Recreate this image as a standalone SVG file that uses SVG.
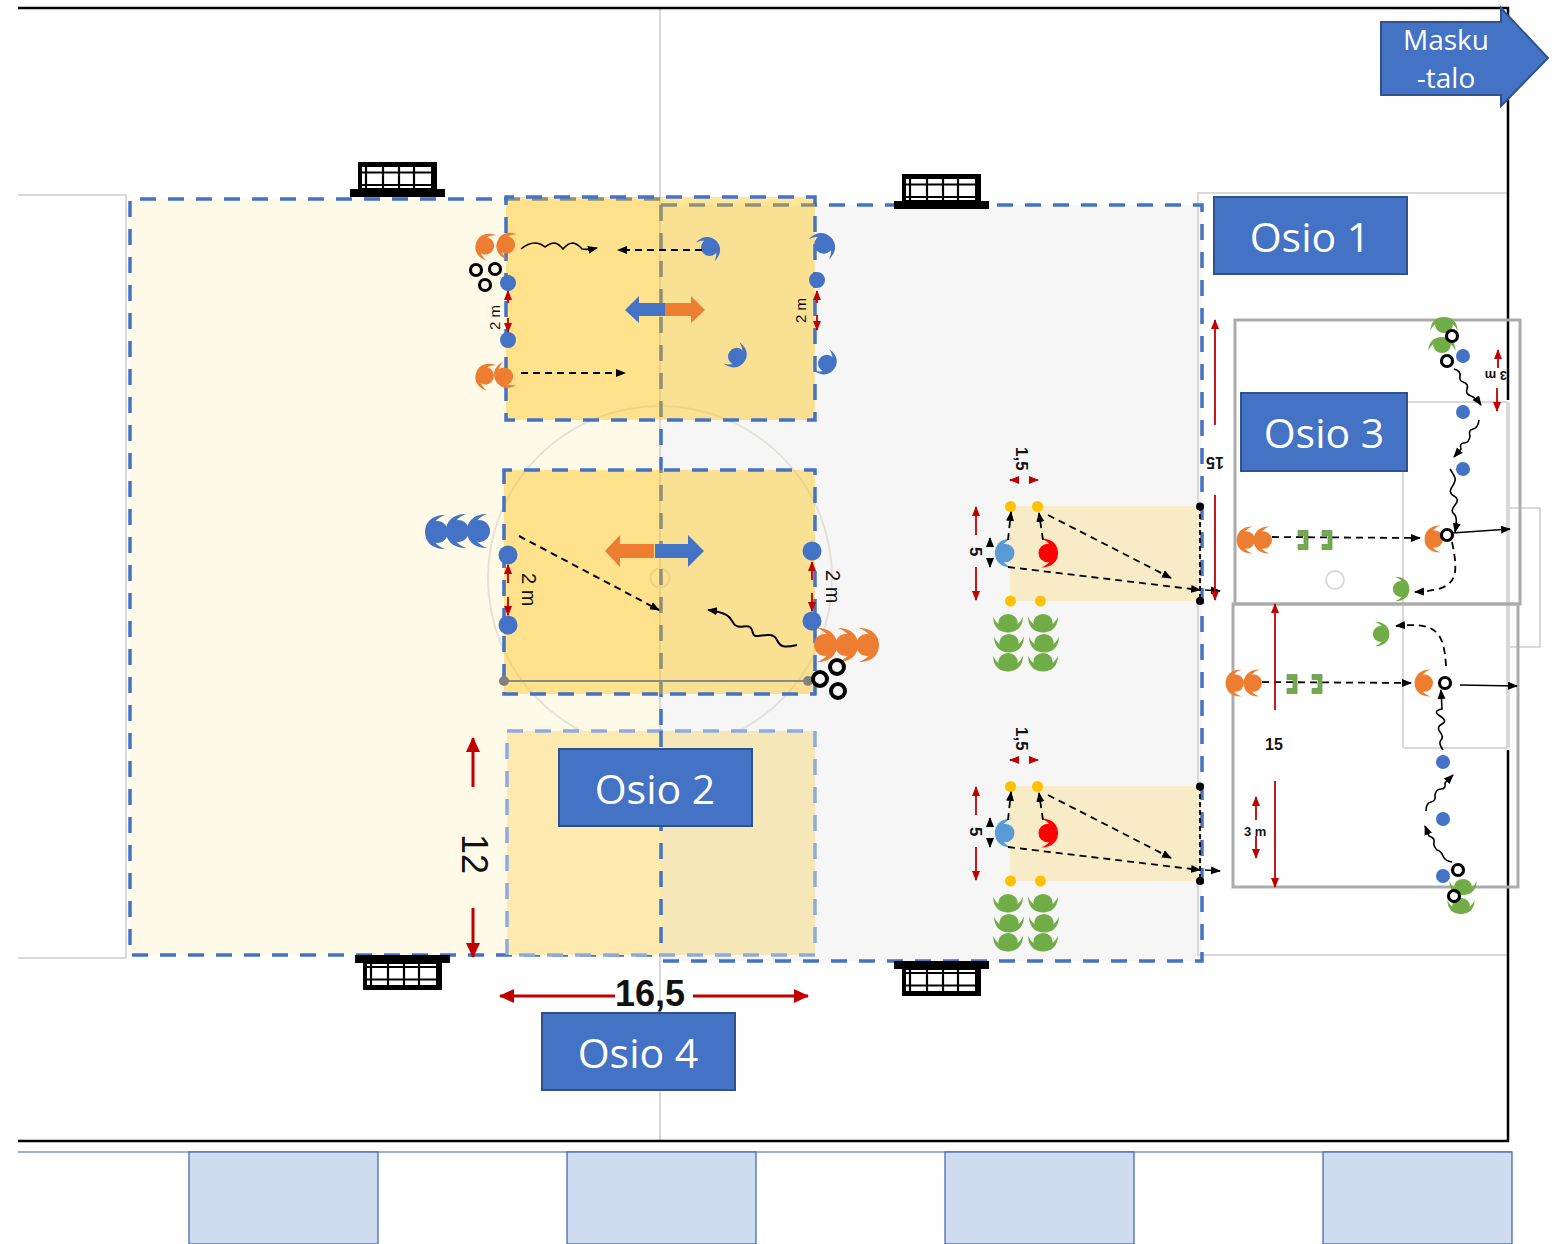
<svg xmlns="http://www.w3.org/2000/svg" xmlns:xlink="http://www.w3.org/1999/xlink" width="1557" height="1244" viewBox="0 0 1557 1244">
<style>
text{font-family:"Liberation Sans",Arial,sans-serif;fill:#111}
.osio{fill:#4472C4;stroke:#2F528F;stroke-width:2}
.ot{font-family:"Open Sans","Noto Sans",sans-serif;font-size:41px;fill:#fff;text-anchor:middle}
.court{fill:none;stroke:#d9d9d9;stroke-width:2}
.dash{fill:none;stroke:#4472C4;stroke-width:3.5;stroke-dasharray:16 12}
.dash2{fill:none;stroke:#8FAADC;stroke-width:3.5;stroke-dasharray:16 12}
.panel{fill:none;stroke:#ababab;stroke-width:3}
.k{fill:none;stroke:#000;stroke-width:1.6;marker-end:url(#ak)}
.kd{fill:none;stroke:#000;stroke-width:1.8;stroke-dasharray:7 5;marker-end:url(#ak)}
.r{fill:none;stroke:#C00000;stroke-width:1.8;marker-end:url(#ar)}
.rb{fill:none;stroke:#C00000;stroke-width:3;marker-end:url(#arb)}
.ring{fill:#fff;fill-opacity:0;stroke:#000;stroke-width:3.2}
.o{fill:#ED7D31}.b{fill:#4472C4}.g{fill:#70AD47}.lb{fill:#5B9BD5}.red{fill:#FF0000}
.cone{fill:#FFC000}.bd{fill:#4472C4}
.t{font-size:17px;font-weight:bold}
</style>
<defs>
<marker id="ak" markerUnits="userSpaceOnUse" markerWidth="11" markerHeight="10" refX="9" refY="5" orient="auto"><path d="M0 1L10 5L0 9Z" fill="#000"/></marker>
<marker id="ar" markerUnits="userSpaceOnUse" markerWidth="11" markerHeight="10" refX="9" refY="5" orient="auto"><path d="M0 1L10 5L0 9Z" fill="#C00000"/></marker>
<marker id="arb" markerUnits="userSpaceOnUse" markerWidth="16" markerHeight="14" refX="14" refY="7" orient="auto"><path d="M0 0L15 7L0 14Z" fill="#C00000"/></marker>
<g id="p"><circle cx="1" r="11"/><path d="M-7 -17C7 -17 13 -9 13 0C13 9 7 17 -7 17C1 14 6 9 6 0C6 -9 1 -14 -7 -17Z"/></g>
<g id="goal"><rect x="8" y="0" width="79" height="28" fill="#000"/><rect x="12" y="5" width="69" height="21" fill="#fff"/><path d="M12 10.500h69M12 23h69M16 5v21M33 5v21M49 5v21M64 5v21" stroke="#000" stroke-width="2.200" fill="none"/><rect x="0" y="27" width="95" height="8" fill="#000"/></g>
<path id="bk" d="M-5 -9.500h10v19h-10v-5h6v-9h-6z" fill="#70AD47" stroke="#6f8f5a" stroke-width=".8"/>
</defs>
<rect width="1557" height="1244" fill="#fff"/>
<g id="pitch">
<rect x="130" y="199" width="530" height="756" fill="#FFF9E8"/>
<rect x="660" y="205" width="542" height="756" fill="#F6F6F6"/>
<path class="court" d="M18 195H126V958H18M1508 193H1198V955H1508"/>
<path d="M660 8V1141" stroke="#d9d9d9" stroke-width="2"/>
<circle cx="660" cy="578" r="172" fill="none" stroke="#e3e1da" stroke-width="2"/>
<circle cx="660" cy="578" r="9.500" fill="none" stroke="#e3e1da" stroke-width="2"/>
<path class="dash" d="M660 199H130V955H660"/>
<path class="dash" d="M661 205H1202V961H661"/>
<path class="dash" d="M661 205V961"/>
<path d="M18 8H1508V400M1508 750V1141H18" fill="none" stroke="#000" stroke-width="2.500"/>
</g>
<g id="zones">
<rect x="506" y="197" width="309" height="223" fill="#FFC000" fill-opacity=".4"/>
<rect x="506" y="197" width="309" height="223" class="dash" stroke-dashoffset="8"/>
<rect x="504" y="470" width="311" height="224" fill="#FFC000" fill-opacity=".4"/>
<rect x="504" y="470" width="311" height="224" class="dash" stroke-dashoffset="8"/>
<rect x="507" y="731" width="154" height="224" fill="#FEE9AE"/>
<rect x="661" y="731" width="154" height="224" fill="#F5E7B7"/>
<rect x="507" y="731" width="308" height="224" class="dash2"/>
<path class="dash" d="M661 731V955"/>
</g>
<g id="goals">
<use href="#goal" transform="translate(350 162)"/>
<use href="#goal" transform="translate(894 174)"/>
<use href="#goal" transform="translate(355 990) scale(1 -1)"/>
<use href="#goal" transform="translate(894 996) scale(1 -1)"/>
</g>
<g id="panels">
<path d="M1403 748V402H1508M1403 748H1508" fill="none" stroke="#d9d9d9" stroke-width="2"/>
<path d="M1508 402V748" stroke="#d9d9d9" stroke-width="4"/>
<path d="M1510 508H1540V647H1510" fill="none" stroke="#d9d9d9" stroke-width="2"/>
<rect class="panel" x="1235" y="320" width="285" height="284"/>
<rect class="panel" x="1233" y="604" width="285" height="283"/>
<circle cx="1335" cy="580" r="9" fill="none" stroke="#d9d9d9" stroke-width="2"/>
</g>
<g id="drill-a">
<rect x="1010" y="506" width="190" height="95" fill="#F8EBC8"/>
<circle class="cone" cx="1010.500" cy="506.500" r="5.500"/><circle class="cone" cx="1037.500" cy="506.500" r="5.500"/><circle class="cone" cx="1010.500" cy="601" r="5.500"/><circle class="cone" cx="1040.500" cy="601" r="5.500"/>
<use href="#p" class="lb" transform="translate(1006 553) rotate(180) scale(.85)"/>
<use href="#p" class="red" transform="translate(1047 553) scale(.85)"/>
<use href="#p" class="g" transform="translate(1008 622) rotate(90) scale(.8 .88)"/><use href="#p" class="g" transform="translate(1009 642) rotate(90) scale(.8 .88)"/><use href="#p" class="g" transform="translate(1008 661) rotate(90) scale(.8 .88)"/>
<use href="#p" class="g" transform="translate(1043 622) rotate(90) scale(.8 .88)"/><use href="#p" class="g" transform="translate(1044 642) rotate(90) scale(.8 .88)"/><use href="#p" class="g" transform="translate(1043 661) rotate(90) scale(.8 .88)"/>
<path d="M1200 506V601" stroke="#000" stroke-width="1.800" stroke-dasharray="5 3"/>
<circle cx="1200" cy="506.500" r="4"/><circle cx="1200" cy="601" r="4"/>
<path class="kd" d="M1008 540L1011 512"/><path class="kd" d="M1043 540L1039 513"/><path class="kd" d="M1048 515L1171 578"/><path class="kd" d="M1008 567L1200 590"/><path class="k" d="M1205 590L1220 591"/>
<path class="k" d="M990 547V538"/><path class="k" d="M990 558V567"/>
<path class="r" d="M976 535V507"/><path class="r" d="M976 567V600"/>
<path class="r" d="M1018 480H1010"/><path class="r" d="M1029 480H1038"/>
<text class="t" transform="translate(1016 447) rotate(90)">1,5</text>
<text class="t" transform="translate(970 547) rotate(90)">5</text>
</g>
<g id="drill-b">
<rect x="1010" y="786" width="190" height="95" fill="#F8EBC8"/>
<circle class="cone" cx="1010.500" cy="786.500" r="5.500"/><circle class="cone" cx="1037.500" cy="786.500" r="5.500"/><circle class="cone" cx="1010.500" cy="881" r="5.500"/><circle class="cone" cx="1040.500" cy="881" r="5.500"/>
<use href="#p" class="lb" transform="translate(1006 833) rotate(180) scale(.85)"/>
<use href="#p" class="red" transform="translate(1047 833) scale(.85)"/>
<use href="#p" class="g" transform="translate(1008 902) rotate(90) scale(.8 .88)"/><use href="#p" class="g" transform="translate(1009 922) rotate(90) scale(.8 .88)"/><use href="#p" class="g" transform="translate(1008 941) rotate(90) scale(.8 .88)"/>
<use href="#p" class="g" transform="translate(1043 902) rotate(90) scale(.8 .88)"/><use href="#p" class="g" transform="translate(1044 922) rotate(90) scale(.8 .88)"/><use href="#p" class="g" transform="translate(1043 941) rotate(90) scale(.8 .88)"/>
<path d="M1200 786V881" stroke="#000" stroke-width="1.800" stroke-dasharray="5 3"/>
<circle cx="1200" cy="786.500" r="4"/><circle cx="1200" cy="881" r="4"/>
<path class="kd" d="M1008 820L1011 792"/><path class="kd" d="M1043 820L1039 793"/><path class="kd" d="M1048 795L1171 858"/><path class="kd" d="M1008 847L1200 870"/><path class="k" d="M1205 870L1220 871"/>
<path class="k" d="M990 827V818"/><path class="k" d="M990 838V847"/>
<path class="r" d="M976 815V787"/><path class="r" d="M976 847V880"/>
<path class="r" d="M1018 760H1010"/><path class="r" d="M1029 760H1038"/>
<text class="t" transform="translate(1016 727) rotate(90)">1,5</text>
<text class="t" transform="translate(970 827) rotate(90)">5</text>
</g>
<g id="top-drill">
<use href="#p" class="o" transform="translate(486 246) rotate(200) scale(.8)"/>
<use href="#p" class="o" transform="translate(507 245) rotate(200) scale(.8)"/>
<use href="#p" class="o" transform="translate(486 376) rotate(200) scale(.8)"/>
<use href="#p" class="o" transform="translate(505 376) rotate(150) scale(.8)"/>
<circle class="ring" cx="476" cy="270" r="5.500"/><circle class="ring" cx="495" cy="269" r="5.500"/><circle class="ring" cx="485" cy="285" r="5.500"/>
<circle class="bd" cx="508" cy="283" r="8"/><circle class="bd" cx="508" cy="340" r="8"/><circle class="bd" cx="817" cy="280" r="8"/>
<use href="#p" class="b" transform="translate(709 248) rotate(-45) scale(.78)"/>
<use href="#p" class="b" transform="translate(823 245) rotate(-45) scale(.85)"/>
<use href="#p" class="b" transform="translate(736 356) rotate(35) scale(.78)"/>
<use href="#p" class="b" transform="translate(826 363) rotate(35) scale(.78)"/>
<path d="M521 249Q528 243 535 243Q540 243 545 247Q550 243 555 243Q559 244 563 249Q568 243 573 243Q578 244 582 249Q588 250 597 248" fill="none" stroke="#000" stroke-width="1.600" marker-end="url(#ak)"/>
<path class="kd" d="M702 250H618"/><path class="kd" d="M521 373H625"/>
<path class="r" d="M508 303V291"/><path class="r" d="M508 318V332"/>
<path class="r" d="M817 303V291"/><path class="r" d="M817 315V330"/>
<text font-size="15" transform="translate(500 330) rotate(-90)">2 m</text>
<text font-size="15" transform="translate(806 323) rotate(-90)">2 m</text>
<path d="M665 303H639V296L625 310L639 323V316H665Z" fill="#4472C4"/>
<path d="M665 303H691V296L705 310L691 323V316H665Z" fill="#ED7D31"/>
</g>
<g id="mid-drill">
<use href="#p" class="b" transform="translate(438 532) rotate(180)"/><use href="#p" class="b" transform="translate(459 531) rotate(180)"/><use href="#p" class="b" transform="translate(480 531) rotate(180)"/>
<circle class="bd" cx="508" cy="555" r="9.500"/><circle class="bd" cx="508" cy="625" r="9.500"/><circle class="bd" cx="812" cy="551" r="9.500"/><circle class="bd" cx="812" cy="621" r="9.500"/>
<path class="r" d="M508 583V565"/><path class="r" d="M508 597V615"/><path class="r" d="M812 580V562"/><path class="r" d="M812 593V611"/>
<text font-size="20" transform="translate(522 573) rotate(90)">2 m</text>
<text font-size="20" transform="translate(826 570) rotate(90)">2 m</text>
<path d="M654 544H620V535L605 551L620 567V558H654Z" fill="#ED7D31"/>
<path d="M655 544H688V535L704 551L688 567V558H655Z" fill="#4472C4"/>
<path class="kd" style="stroke-width:2" d="M519 536L659 610"/>
<path d="M797 645C784 648 780 647 777 640S765 635 758 636S754 630 750 627S738 630 734 624S730 613 708 610" fill="none" stroke="#000" stroke-width="2" marker-end="url(#ak)"/>
<path d="M504 681H808" stroke="#8a8a8a" stroke-width="2"/><circle cx="504" cy="681" r="5" fill="#808080"/><circle cx="808" cy="681" r="5" fill="#808080"/>
<use href="#p" class="o" transform="translate(824 645)"/><use href="#p" class="o" transform="translate(845 645)"/><use href="#p" class="o" transform="translate(866 645)"/>
<circle class="ring" style="stroke-width:4" cx="820" cy="679" r="7"/><circle class="ring" style="stroke-width:4" cx="837" cy="667" r="7"/><circle class="ring" style="stroke-width:4" cx="838" cy="691" r="7"/>
</g>
<g id="drill-c">
<use href="#p" class="g" transform="translate(1444 326) rotate(-90) scale(.7 .8)"/><use href="#p" class="g" transform="translate(1442 346) rotate(-90) scale(.7 .8)"/>
<circle class="ring" cx="1452" cy="336" r="5.500"/><circle class="ring" cx="1447" cy="361" r="5.500"/>
<circle class="bd" cx="1463" cy="356" r="7"/><circle class="bd" cx="1463" cy="412" r="7"/><circle class="bd" cx="1463" cy="469" r="7"/>
<path d="M1454 369q7 2 6 7t3 6q6 2 4 7t4 7q5 2 10 9" fill="none" stroke="#000" stroke-width="1.600" marker-end="url(#ak)"/>
<path d="M1479 420q-1 8-6 9t-3 7q-1 7-6 7t-3 6l-7 8" fill="none" stroke="#000" stroke-width="1.600" marker-end="url(#ak)"/>
<path d="M1450 469q4 6 5 9t-3 9t2 9t1 9t-1 9t1 18" fill="none" stroke="#000" stroke-width="1.600" marker-end="url(#ak)"/>
<use href="#p" class="o" transform="translate(1247 540) rotate(180) scale(.8)"/><use href="#p" class="o" transform="translate(1264 540) rotate(180) scale(.8)"/>
<path class="kd" d="M1272 537L1420 538"/>
<use href="#bk" transform="translate(1303 540)"/><use href="#bk" transform="translate(1327 540)"/>
<use href="#p" class="o" transform="translate(1435 539) rotate(180) scale(.8)"/>
<circle class="ring" cx="1447" cy="535" r="5.500"/>
<path class="k" d="M1452 533L1510 529"/>
<path class="kd" d="M1452 542C1460 580 1456 590 1415 592"/>
<use href="#p" class="g" transform="translate(1400 589) scale(.72)"/>
<path class="r" d="M1498 368V350"/><path class="r" d="M1497 388V411"/>
<text font-weight="bold" style="font-size:13px" transform="translate(1507 371) rotate(180)">3 m</text>
</g>
<g id="drill-d">
<use href="#p" class="g" transform="translate(1463 886) rotate(90) scale(.7 .8)"/><use href="#p" class="g" transform="translate(1461 905) rotate(90) scale(.7 .8)"/>
<circle class="ring" cx="1458" cy="870" r="5.500"/><circle class="ring" cx="1454" cy="896" r="5.500"/>
<circle class="bd" cx="1443" cy="762" r="7"/><circle class="bd" cx="1443" cy="819" r="7"/><circle class="bd" cx="1443" cy="876" r="7"/>
<path d="M1443 750q-5-7-2-10t-1-8t2-8t-2-8t2-7l-1-19" fill="none" stroke="#000" stroke-width="1.600" marker-end="url(#ak)"/>
<path d="M1426 811q0-8 5-9t4-7q1-6 6-6t4-6l8-8" fill="none" stroke="#000" stroke-width="1.600" marker-end="url(#ak)"/>
<path d="M1452 862q-7-1-9-6t-6-6q-4-4-3-8t-5-6l-4-10" fill="none" stroke="#000" stroke-width="1.600" marker-end="url(#ak)"/>
<use href="#p" class="o" transform="translate(1236 683) rotate(180) scale(.8)"/><use href="#p" class="o" transform="translate(1254 683) rotate(180) scale(.8)"/>
<path class="kd" d="M1262 682L1411 683"/>
<use href="#bk" transform="translate(1292 684)"/><use href="#bk" transform="translate(1317 684)"/>
<use href="#p" class="o" transform="translate(1425 683) rotate(180) scale(.8)"/>
<circle class="ring" cx="1445" cy="683" r="5.500"/>
<path class="k" d="M1460 685L1517 686"/>
<path class="kd" d="M1446 666C1444 630 1435 622 1396 626"/>
<use href="#p" class="g" transform="translate(1380 634) scale(.72)"/>
<path class="r" d="M1256 820V797"/><path class="r" d="M1256 836V858"/>
<text font-weight="bold" style="font-size:13px" x="1244" y="836">3 m</text>
</g>
<g id="measures">
<path class="r" d="M1215 425V320"/><path class="r" d="M1215 495V600"/>
<path class="r" d="M1275 710V604"/><path class="r" d="M1275 781V887"/>
<text font-size="16" font-weight="bold" x="1265" y="750">15</text>
<text font-size="16" font-weight="bold" transform="translate(1224 457) rotate(180)">15</text>
<path class="rb" d="M473 787V738"/><path class="rb" d="M473 908V957"/>
<text font-size="36" transform="translate(462 834) rotate(90)">12</text>
<path class="rb" d="M615 996H500"/><path class="rb" d="M693 996H808"/>
<text font-size="36" font-weight="bold" x="615" y="1006">16,5</text>
</g>
<g id="osio-1"><rect class="osio" x="1214" y="197" width="193" height="77"/><text class="ot" x="1310" y="252">Osio 1</text></g>
<g id="osio-3"><rect class="osio" x="1241" y="393" width="166" height="78"/><text class="ot" x="1324" y="448">Osio 3</text></g>
<g id="osio-2"><rect class="osio" x="559" y="749" width="193" height="77"/><text class="ot" x="655" y="804">Osio 2</text></g>
<g id="osio-4"><rect class="osio" x="542" y="1013" width="193" height="77"/><text class="ot" x="638" y="1068">Osio 4</text></g>
<g id="masku">
<path class="osio" d="M1381 22H1501V8L1548 58L1501 106V95H1381Z"/>
<text class="ot" style="font-size:28px" x="1446" y="50">Masku</text>
<text class="ot" style="font-size:28px" x="1446" y="88">-talo</text>
</g>
<g id="strip">
<path d="M18 1152H1512" stroke="#3A62AB" stroke-width="1.200"/>
<g fill="#CFDBEF" stroke="#3A62AB" stroke-width="1.200">
<rect x="189" y="1152" width="189" height="92"/><rect x="567" y="1152" width="189" height="92"/><rect x="945" y="1152" width="189" height="92"/><rect x="1323" y="1152" width="189" height="92"/>
</g>
</g>
</svg>
